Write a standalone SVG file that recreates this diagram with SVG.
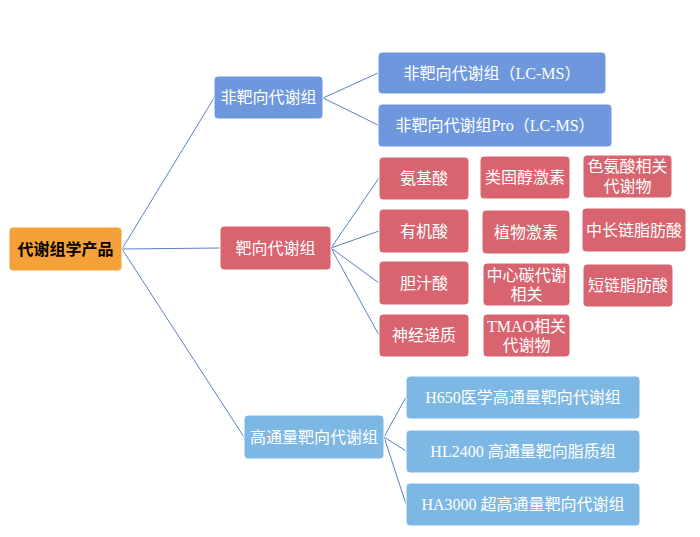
<svg xmlns="http://www.w3.org/2000/svg" width="700" height="537" viewBox="0 0 700 537">
<style>
text{font-family:"Liberation Serif","Noto Sans CJK SC",serif;font-size:16px;fill:#fff;text-anchor:middle;dominant-baseline:central}
.b rect{fill:#6E97DD;stroke:#fff;stroke-width:1}
.r rect{fill:#D7646F;stroke:#fff;stroke-width:1}
.l rect{fill:#7DB8E4;stroke:#fff;stroke-width:1}
.o rect{fill:#F4A13A;stroke:#fff;stroke-width:1}
.o text{fill:#000;font-weight:bold}
#conn line{stroke:#5B80C8;stroke-width:1}
</style>
<rect width="700" height="537" fill="#fff"/>
<g id="conn">
<line x1="122" y1="249" x2="214" y2="98"/>
<line x1="122" y1="249" x2="220" y2="248"/>
<line x1="122" y1="249" x2="244" y2="437"/>
<line x1="323" y1="98" x2="378" y2="73"/>
<line x1="323" y1="98" x2="378" y2="125"/>
<line x1="331" y1="248" x2="379" y2="178"/>
<line x1="331" y1="248" x2="379" y2="231"/>
<line x1="331" y1="248" x2="379" y2="283"/>
<line x1="331" y1="248" x2="379" y2="335"/>
<line x1="384" y1="437" x2="406" y2="397"/>
<line x1="384" y1="437" x2="406" y2="451"/>
<line x1="384" y1="437" x2="406" y2="504"/>
</g>
<g id="root" class="o"><rect x="9" y="227" width="113" height="44" rx="4"/><text x="65.5" y="249">代谢组学产品</text></g>
<g id="n1" class="b"><rect x="214" y="76" width="109" height="43" rx="4"/><text x="268.5" y="97.5">非靶向代谢组</text></g>
<g id="n1a" class="b"><rect x="378" y="52" width="228" height="42" rx="4"/><text x="492" y="73">非靶向代谢组（LC-MS）</text></g>
<g id="n1b" class="b"><rect x="378" y="104" width="234" height="43" rx="4"/><text x="495" y="125.5">非靶向代谢组Pro（LC-MS）</text></g>
<g id="n2" class="r"><rect x="220" y="226" width="111" height="44" rx="4"/><text x="275.5" y="248">靶向代谢组</text></g>
<g id="r11" class="r"><rect x="379" y="157" width="90" height="43" rx="4"/><text x="424" y="178.5">氨基酸</text></g>
<g id="r21" class="r"><rect x="379" y="209" width="90" height="44" rx="4"/><text x="424" y="231">有机酸</text></g>
<g id="r31" class="r"><rect x="379" y="261" width="90" height="44" rx="4"/><text x="424" y="283">胆汁酸</text></g>
<g id="r41" class="r"><rect x="379" y="314" width="90" height="43" rx="4"/><text x="424" y="335.5">神经递质</text></g>
<g id="r12" class="r"><rect x="480" y="156" width="90" height="43" rx="4"/><text x="525" y="177.5">类固醇激素</text></g>
<g id="r22" class="r"><rect x="482" y="210" width="88" height="44" rx="4"/><text x="526" y="232">植物激素</text></g>
<g id="r32" class="r"><rect x="483" y="263" width="87" height="43" rx="4"/><text x="526.5" y="275">中心碳代谢</text><text x="526.5" y="294">相关</text></g>
<g id="r42" class="r"><rect x="483" y="314" width="87" height="43" rx="4"/><text x="526.5" y="326">TMAO相关</text><text x="526.5" y="345">代谢物</text></g>
<g id="r13" class="r"><rect x="583" y="155" width="89" height="43" rx="4"/><text x="627.5" y="166">色氨酸相关</text><text x="627.5" y="186">代谢物</text></g>
<g id="r23" class="r"><rect x="582" y="208" width="104" height="44" rx="4"/><text x="634" y="230">中长链脂肪酸</text></g>
<g id="r33" class="r"><rect x="583" y="264" width="90" height="43" rx="4"/><text x="628" y="285.5">短链脂肪酸</text></g>
<g id="n3" class="l"><rect x="244" y="415" width="140" height="44" rx="4"/><text x="314" y="437">高通量靶向代谢组</text></g>
<g id="n3a" class="l"><rect x="406" y="376" width="234" height="43" rx="4"/><text x="523" y="397.5">H650医学高通量靶向代谢组</text></g>
<g id="n3b" class="l"><rect x="406" y="430" width="234" height="43" rx="4"/><text x="523" y="451.5">HL2400 高通量靶向脂质组</text></g>
<g id="n3c" class="l"><rect x="406" y="483" width="234" height="43" rx="4"/><text x="523" y="504.5">HA3000 超高通量靶向代谢组</text></g>
</svg>
